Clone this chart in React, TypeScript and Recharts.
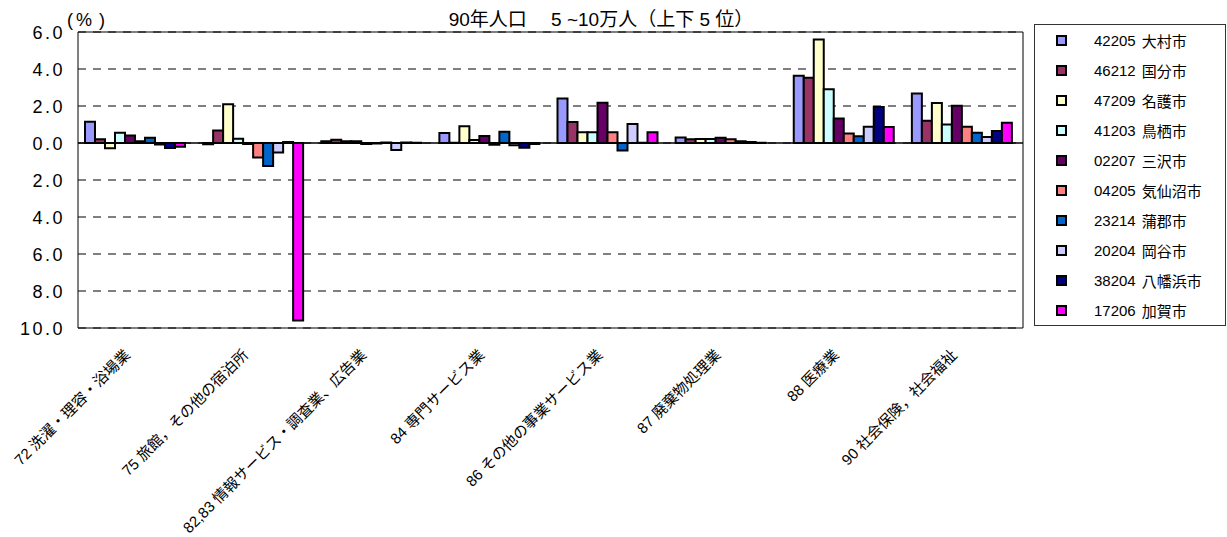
import {
  Bar,
  BarChart,
  CartesianGrid,
  Legend,
  ReferenceArea,
  ReferenceLine,
  XAxis,
  YAxis,
} from "recharts";

const FONT = "'Liberation Sans', 'Noto Sans CJK JP', sans-serif";

const categories = [
  "72 洗濯・理容・浴場業",
  "75 旅館，その他の宿泊所",
  "82,83 情報サービス・調査業、広告業",
  "84 専門サービス業",
  "86 その他の事業サービス業",
  "87 廃棄物処理業",
  "88 医療業",
  "90 社会保険，社会福祉",
];

const cityCodes = ["42205", "46212", "47209", "41203", "02207", "04205", "23214", "20204", "38204", "17206"];
const cityNames = ["大村市", "国分市", "名護市", "鳥栖市", "三沢市", "気仙沼市", "蒲郡市", "岡谷市", "八幡浜市", "加賀市"];
const cityColors = ["#9999ff", "#993366", "#ffffcc", "#ccffff", "#660066", "#ff8080", "#0066cc", "#ccccff", "#000080", "#ff00ff"];

// values per city, one per category (%)
const omura = [1.15, -0.07, 0.1, 0.54, 2.41, 0.3, 3.64, 2.67];
const kokubu = [0.2, 0.67, 0.18, 0.02, 1.13, 0.2, 3.53, 1.2];
const nago = [-0.29, 2.1, 0.1, 0.9, 0.58, 0.22, 5.6, 2.16];
const tosu = [0.56, 0.23, 0.1, 0.16, 0.58, 0.22, 2.9, 1.0];
const misawa = [0.4, -0.05, -0.05, 0.38, 2.18, 0.29, 1.32, 2.02];
const kesennuma = [0.1, -0.79, -0.03, -0.1, 0.58, 0.2, 0.52, 0.88];
const gamagori = [0.29, -1.24, 0.03, 0.61, -0.4, 0.09, 0.36, 0.56];
const okaya = [-0.08, -0.52, -0.38, -0.12, 1.03, 0.05, 0.88, 0.33];
const yawatahama = [-0.27, 0.05, 0.03, -0.25, 0.02, 0.01, 1.95, 0.65];
const kaga = [-0.2, -9.6, 0.02, -0.05, 0.58, 0.0, 0.86, 1.1];

const seriesValues = [omura, kokubu, nago, tosu, misawa, kesennuma, gamagori, okaya, yawatahama, kaga];

const yTicks = [-10, -8, -6, -4, -2, 0, 2, 4, 6];

const chartData = categories.map((category, i) => {
  const row: Record<string, string | number> = { category };
  cityCodes.forEach((code, j) => {
    row[`c${code}`] = seriesValues[j][i];
  });
  return row;
});

const YTick = ({ y, payload }: any) => (
  <text
    x={65}
    y={y}
    dy={6.5}
    textAnchor="end"
    fontSize={18}
    letterSpacing={2.5}
    fontFamily={FONT}
    fill="#000"
  >
    {Math.abs(payload.value).toFixed(1)}
  </text>
);

const XTick = ({ x, payload }: any) => (
  <text
    x={x - 6}
    y={356}
    textAnchor="end"
    fontSize={15}
    fontFamily={FONT}
    fill="#000"
    transform={`rotate(-45, ${x - 6}, 356)`}
  >
    {payload.value}
  </text>
);

const CityLegend = () => (
  <div
    style={{
      width: 192,
      height: 302,
      boxSizing: "border-box",
      border: "1px solid #333",
      background: "#fff",
      fontFamily: FONT,
      fontSize: 15,
      color: "#000",
    }}
  >
    {cityCodes.map((code, i) => (
      <div key={code} style={{ height: 30, display: "flex", alignItems: "center" }}>
        <span
          style={{
            display: "inline-block",
            width: 7,
            height: 7,
            marginLeft: 21,
            border: "2px solid #000",
            background: cityColors[i],
          }}
        />
        <span style={{ marginLeft: 27, whiteSpace: "pre" }}>{code}</span>
        <span style={{ marginLeft: 6 }}>{cityNames[i]}</span>
      </div>
    ))}
  </div>
);

export default function App() {
  return (
    <div style={{ position: "absolute", left: 0, top: 0, width: 1227, height: 537, background: "#fff" }}>
      <BarChart
        width={1227}
        height={537}
        data={chartData}
        margin={{ top: 32, right: 204, left: 18, bottom: 9 }}
        barCategoryGap={7}
        barGap={0}
      >
        <CartesianGrid vertical={false} stroke="#000" strokeDasharray="8 7" />
        <XAxis
          dataKey="category"
          height={200}
          interval={0}
          axisLine={false}
          tickLine={false}
          tick={<XTick />}
        />
        <YAxis
          type="number"
          width={60}
          domain={[-10, 6]}
          ticks={yTicks}
          allowDataOverflow
          axisLine={false}
          tickLine={false}
          tick={<YTick />}
        />
        <ReferenceArea y1={-10} y2={6} fill="none" stroke="#000" strokeWidth={1} />
        <ReferenceLine y={0} stroke="#000" strokeWidth={1.5} />
        {cityCodes.map((code, i) => (
          <Bar
            key={code}
            dataKey={`c${code}`}
            name={`${code} ${cityNames[i]}`}
            fill={cityColors[i]}
            stroke="#000"
            strokeWidth={2}
            isAnimationActive={false}
          />
        ))}
        <Legend
          layout="vertical"
          align="center"
          verticalAlign="middle"
          width={192}
          height={302}
          wrapperStyle={{ left: 1034, top: 24, width: 192, height: 302 }}
          content={<CityLegend />}
        />
      </BarChart>
      <svg
        width={1227}
        height={537}
        style={{ position: "absolute", left: 0, top: 0, pointerEvents: "none" }}
      >
        <text x={601} y={25.5} textAnchor="middle" fontSize={19} fontFamily={FONT} fill="#000">
          90年人口　 5 ~10万人（上下 5 位）
        </text>
        <text y={26} fontSize={18} fontFamily={FONT} fill="#000">
          <tspan x={67}>(</tspan>
          <tspan x={76}>%</tspan>
          <tspan x={99}>)</tspan>
        </text>
      </svg>
    </div>
  );
}
